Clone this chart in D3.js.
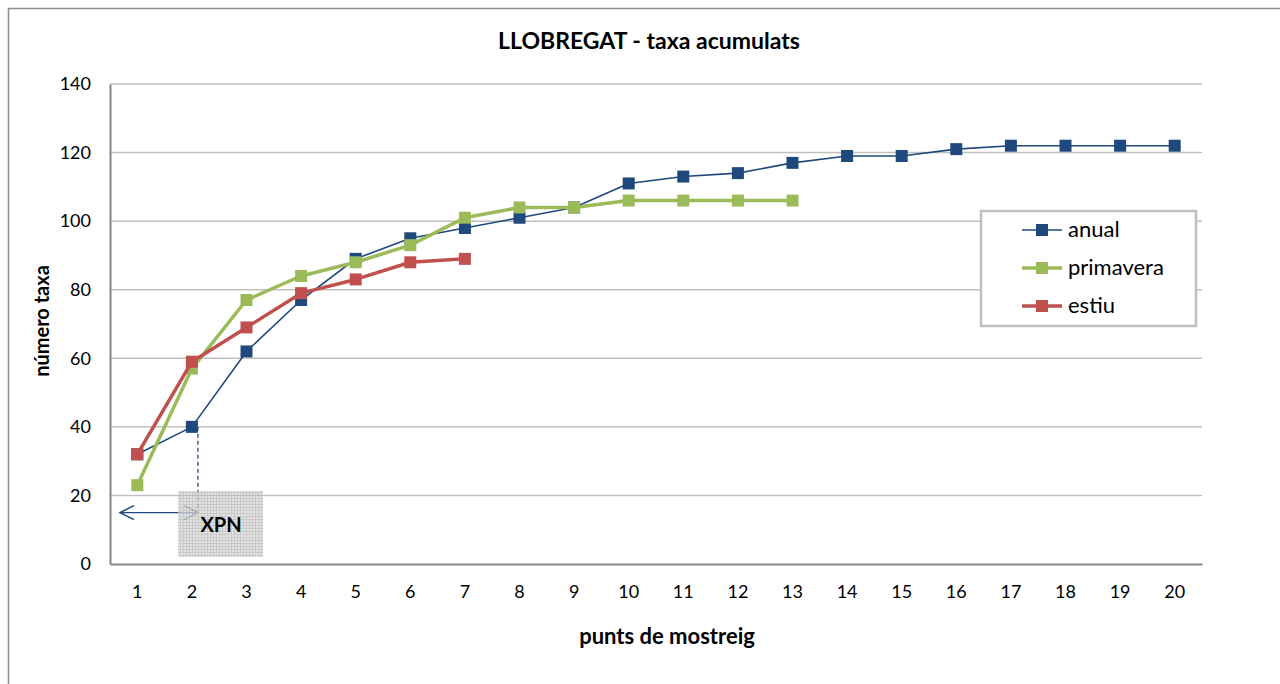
<!DOCTYPE html>
<html><head><meta charset="utf-8">
<script src="https://cdn.jsdelivr.net/npm/d3@7"></script>
<style>body{margin:0;background:#fff}svg{display:block;font-family:Lato,"Open Sans",sans-serif}</style>
</head><body><svg id="c" width="1280" height="684"></svg>
<script>
const categories = d3.range(1,21).map(String);
const yTicks = [0,20,40,60,80,100,120,140];
const anual = [32,40,62,77,89,95,98,101,104,111,113,114,117,119,119,121,122,122,122,122];
const primavera = [23,57,77,84,88,93,101,104,104,106,106,106,106];
const estiu = [32,59,69,79,83,88,89];
const series = [
  {name:"anual", values:anual, color:"#1F497D", width:1.6},
  {name:"primavera", values:primavera, color:"#9BBB59", width:3.5},
  {name:"estiu", values:estiu, color:"#C0504D", width:3.5}
];
const xpnIndex = 1; // point 2 of anual
const xpnLevel = 15;

const svg = d3.select("#c");
const L=110,R=1202,T=84,B=564;
const x = d3.scaleBand().domain(categories).range([L,R]);
const y = d3.scaleLinear().domain([0,140]).range([B,T]);
const cx = c => x(c)+x.bandwidth()/2;

// outer border
svg.append("rect").attr("x",8.5).attr("y",8.5).attr("width",1290).attr("height",700)
  .attr("fill","none").attr("stroke","#8c8c8c").attr("stroke-width",1.5);

// gridlines
svg.append("g").selectAll("line").data(yTicks.filter(d=>d>0)).join("line")
  .attr("x1",L).attr("x2",R).attr("y1",d=>y(d)).attr("y2",d=>y(d))
  .attr("stroke","#bfbfbf").attr("stroke-width",1.5);

// axes
const yAxis = svg.append("g").attr("transform",`translate(${L},0)`)
  .call(d3.axisLeft(y).tickValues(yTicks).tickSize(0).tickPadding(19));
yAxis.select(".domain").attr("stroke","#868686").attr("stroke-width",2);
yAxis.selectAll("text").attr("font-size",18).attr("fill","#000").attr("font-family","Lato,sans-serif");

const xAxis = svg.append("g").attr("transform",`translate(0,${B})`)
  .call(d3.axisBottom(x).tickSize(0).tickPadding(21));
xAxis.select(".domain").attr("stroke","#868686").attr("stroke-width",2);
xAxis.selectAll("text").attr("font-size",18).attr("fill","#000").attr("font-family","Lato,sans-serif");

// XPN annotation
const defs = svg.append("defs");
const pat = defs.append("pattern").attr("id","hatch").attr("width",3).attr("height",3).attr("patternUnits","userSpaceOnUse");
pat.append("rect").attr("width",3).attr("height",3).attr("fill","#dcdcdc");
pat.append("path").attr("d","M0,0.5H3M0.5,0V3").attr("stroke","#bdbdbd").attr("stroke-width",1);
defs.append("marker").attr("id","ahL").attr("viewBox","0 0 16 16").attr("refX",1).attr("refY",8)
  .attr("markerWidth",16).attr("markerHeight",16).attr("markerUnits","userSpaceOnUse").attr("orient","0")
  .append("path").attr("d","M15,1L1,8L15,15").attr("fill","none").attr("stroke","#1F497D").attr("stroke-width",1.5);
defs.append("marker").attr("id","ahR").attr("viewBox","0 0 16 16").attr("refX",15).attr("refY",8)
  .attr("markerWidth",16).attr("markerHeight",16).attr("markerUnits","userSpaceOnUse").attr("orient","0")
  .append("path").attr("d","M1,1L15,8L1,15").attr("fill","none").attr("stroke","#1F497D").attr("stroke-width",1.5);

const px = cx(categories[xpnIndex]) + 6;
const ay = y(xpnLevel);
svg.append("line").attr("x1",px).attr("x2",px).attr("y1",y(anual[xpnIndex])).attr("y2",ay)
  .attr("stroke","#1F497D").attr("stroke-width",1.3).attr("stroke-dasharray","4,3");
svg.append("line").attr("x1",120).attr("x2",px).attr("y1",ay).attr("y2",ay)
  .attr("stroke","#1F497D").attr("stroke-width",1.3)
  .attr("marker-start","url(#ahL)").attr("marker-end","url(#ahR)");
svg.append("rect").attr("x",178).attr("y",491).attr("width",85).attr("height",66)
  .attr("fill","url(#hatch)").attr("opacity",0.8);
svg.append("text").attr("x",221).attr("y",532).attr("text-anchor","middle")
  .attr("font-size",20).attr("font-weight","bold").text("XPN");

// lines & markers
const line = d3.line().x((d,i)=>cx(categories[i])).y(d=>y(d));
series.forEach(s=>{
  svg.append("path").attr("d",line(s.values)).attr("fill","none")
    .attr("stroke",s.color).attr("stroke-width",s.width).attr("stroke-linejoin","round");
  svg.append("g").selectAll("rect").data(s.values).join("rect")
    .attr("x",(d,i)=>cx(categories[i])-6).attr("y",d=>y(d)-6)
    .attr("width",12).attr("height",12).attr("fill",s.color);
});

// titles
svg.append("text").attr("x",649).attr("y",49).attr("text-anchor","middle")
  .attr("font-size",23).attr("font-weight","bold").text("LLOBREGAT - taxa acumulats");
svg.append("text").attr("transform","translate(49,321) rotate(-90)").attr("text-anchor","middle")
  .attr("font-size",20).attr("font-weight","bold").text("número taxa");
svg.append("text").attr("x",667).attr("y",644).attr("text-anchor","middle")
  .attr("font-size",22).attr("font-weight","bold").text("punts de mostreig");

// legend
const lg = svg.append("g");
lg.append("rect").attr("x",981).attr("y",211).attr("width",215).attr("height",115)
  .attr("fill","#fff").attr("stroke","#bfbfbf").attr("stroke-width",2.5);
series.forEach((s,i)=>{
  const ly = 230 + i*38;
  lg.append("line").attr("x1",1022).attr("x2",1062).attr("y1",ly).attr("y2",ly)
    .attr("stroke",s.color).attr("stroke-width",s.width);
  lg.append("rect").attr("x",1036).attr("y",ly-6).attr("width",12).attr("height",12).attr("fill",s.color);
  lg.append("text").attr("x",1068).attr("y",ly+7).attr("font-size",22).text(s.name);
});
</script></body></html>
